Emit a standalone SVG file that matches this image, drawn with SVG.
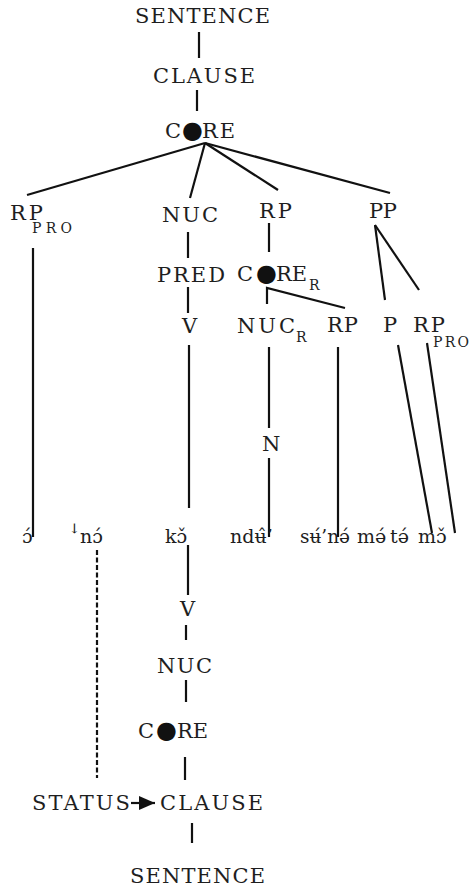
<svg xmlns="http://www.w3.org/2000/svg" width="471" height="889" viewBox="0 0 471 889">
  <defs>
    <marker id="tri" viewBox="0 0 16 14" refX="16" refY="7" markerWidth="16" markerHeight="14" markerUnits="userSpaceOnUse" orient="auto">
      <path d="M0,0 L16,7 L0,14 z" fill="#111"/>
    </marker>
  </defs>
  <style>
    text { font-family: "DejaVu Serif", "Liberation Serif", serif; }
    .t { font-size: 21px; fill: #1e1e1e; }
    .sub { font-size: 14px; fill: #1e1e1e; }
    .dot { font-family: "DejaVu Sans", sans-serif; font-size: 24px; fill: #111; }
    .w { font-size: 19px; fill: #1e1e1e; }
    .e { stroke: #111; stroke-width: 2.2; fill: none; stroke-linecap: butt; }
    .dash { stroke: #111; stroke-width: 2.2; fill: none; stroke-dasharray: 5 2.5; }
  </style>

  <rect width="471" height="889" fill="#fff"/>

  <!-- connectors -->
  <g id="edges">
    <line class="e" x1="199" y1="32" x2="199" y2="58"/>
    <line class="e" x1="197" y1="90" x2="197" y2="111"/>
    <line class="e" x1="205" y1="143" x2="27" y2="195"/>
    <line class="e" x1="205" y1="143" x2="190" y2="198"/>
    <line class="e" x1="205" y1="143" x2="278" y2="190"/>
    <line class="e" x1="205" y1="143" x2="390" y2="193"/>
    <line class="e" x1="33" y1="248" x2="33" y2="537"/>
    <line class="e" x1="188" y1="232" x2="188" y2="258"/>
    <line class="e" x1="188" y1="287" x2="188" y2="313"/>
    <line class="e" x1="189" y1="345" x2="189" y2="508"/>
    <line class="e" x1="269" y1="223" x2="269" y2="252"/>
    <polyline class="e" points="267,304 267,288 345,308"/>
    <line class="e" x1="269" y1="347" x2="269" y2="428"/>
    <line class="e" x1="269" y1="458" x2="269" y2="537"/>
    <line class="e" x1="338" y1="347" x2="338" y2="537"/>
    <line class="e" x1="375" y1="225" x2="385" y2="300"/>
    <line class="e" x1="375" y1="225" x2="419" y2="290"/>
    <line class="e" x1="398" y1="345" x2="432" y2="533"/>
    <line class="e" x1="427" y1="343" x2="455" y2="533"/>
    <line class="e" x1="188" y1="545" x2="188" y2="595"/>
    <line class="e" x1="186" y1="625" x2="186" y2="640"/>
    <line class="e" x1="186" y1="680" x2="186" y2="702"/>
    <line class="e" x1="185" y1="757" x2="185" y2="780"/>
    <line class="e" x1="192" y1="823" x2="192" y2="843"/>
    <line class="dash" x1="97" y1="550" x2="97" y2="778"/>
    <line class="e" x1="131" y1="803" x2="155" y2="803" marker-end="url(#tri)"/>
  </g>

  <!-- upper tree -->
  <g id="sentence-top"><text class="t" x="135" y="23" textLength="135" lengthAdjust="spacing">SENTENCE</text></g>
  <g id="clause-top"><text class="t" x="153" y="83" textLength="102" lengthAdjust="spacing">CLAUSE</text></g>
  <g id="core-top"><text class="t" x="165" y="138">C<tspan class="dot" x="182">●</tspan><tspan x="202" textLength="33" lengthAdjust="spacing">RE</tspan></text></g>
  <g id="rp-pro-1"><text class="t" x="10" y="220" textLength="33" lengthAdjust="spacing">RP</text><text class="sub" x="32" y="233" textLength="40" lengthAdjust="spacing">PRO</text></g>
  <g id="nuc"><text class="t" x="162" y="222" textLength="56" lengthAdjust="spacing">NUC</text></g>
  <g id="pred"><text class="t" x="157" y="282" textLength="68" lengthAdjust="spacing">PRED</text></g>
  <g id="v-top"><text class="t" x="182" y="333">V</text></g>
  <g id="rp-rel"><text class="t" x="259" y="218" textLength="33" lengthAdjust="spacing">RP</text></g>
  <g id="core-r"><text class="t" x="237" y="281">C<tspan class="dot" x="256">●</tspan><tspan x="276" textLength="31" lengthAdjust="spacing">RE</tspan></text><text class="sub" x="309" y="290">R</text></g>
  <g id="nuc-r"><text class="t" x="237" y="333" textLength="58" lengthAdjust="spacing">NUC</text><text class="sub" x="296" y="342">R</text></g>
  <g id="rp-arg"><text class="t" x="327" y="332" textLength="31" lengthAdjust="spacing">RP</text></g>
  <g id="n"><text class="t" x="262" y="451">N</text></g>
  <g id="pp"><text class="t" x="369" y="218" textLength="28" lengthAdjust="spacing">PP</text></g>
  <g id="p"><text class="t" x="383" y="332">P</text></g>
  <g id="rp-pro-2"><text class="t" x="413" y="332" textLength="32" lengthAdjust="spacing">RP</text><text class="sub" x="433" y="347" textLength="36" lengthAdjust="spacing">PRO</text></g>

  <!-- words -->
  <g id="w1"><text class="w" x="22" y="543">ɔ́</text></g>
  <g id="w2"><text class="w" x="70" y="543"><tspan font-size="24" dy="-2">ꜜ</tspan><tspan x="80" dy="2">nɔ́</tspan></text></g>
  <g id="w3"><text class="w" x="165" y="543">kɔ̌</text></g>
  <g id="w4"><text class="w" x="230" y="543">ndʉ̂’</text></g>
  <g id="w5"><text class="w" x="300" y="543" textLength="50" lengthAdjust="spacingAndGlyphs">sʉ́’nə́</text></g>
  <g id="w6"><text class="w" x="357" y="543">mə́</text></g>
  <g id="w7"><text class="w" x="390" y="543">tə́</text></g>
  <g id="w8"><text class="w" x="418" y="543">mɔ̌</text></g>

  <!-- lower tree -->
  <g id="v-bot"><text class="t" x="180" y="616">V</text></g>
  <g id="nuc-bot"><text class="t" x="157" y="673" textLength="55" lengthAdjust="spacing">NUC</text></g>
  <g id="core-bot"><text class="t" x="138" y="738">C<tspan class="dot" x="156">●</tspan><tspan x="177" textLength="31" lengthAdjust="spacing">RE</tspan></text></g>
  <g id="status"><text class="t" x="32" y="810" textLength="98" lengthAdjust="spacing">STATUS</text></g>
  <g id="clause-bot"><text class="t" x="160" y="810" textLength="103" lengthAdjust="spacing">CLAUSE</text></g>
  <g id="sentence-bot"><text class="t" x="130" y="883" textLength="135" lengthAdjust="spacing">SENTENCE</text></g>
</svg>
